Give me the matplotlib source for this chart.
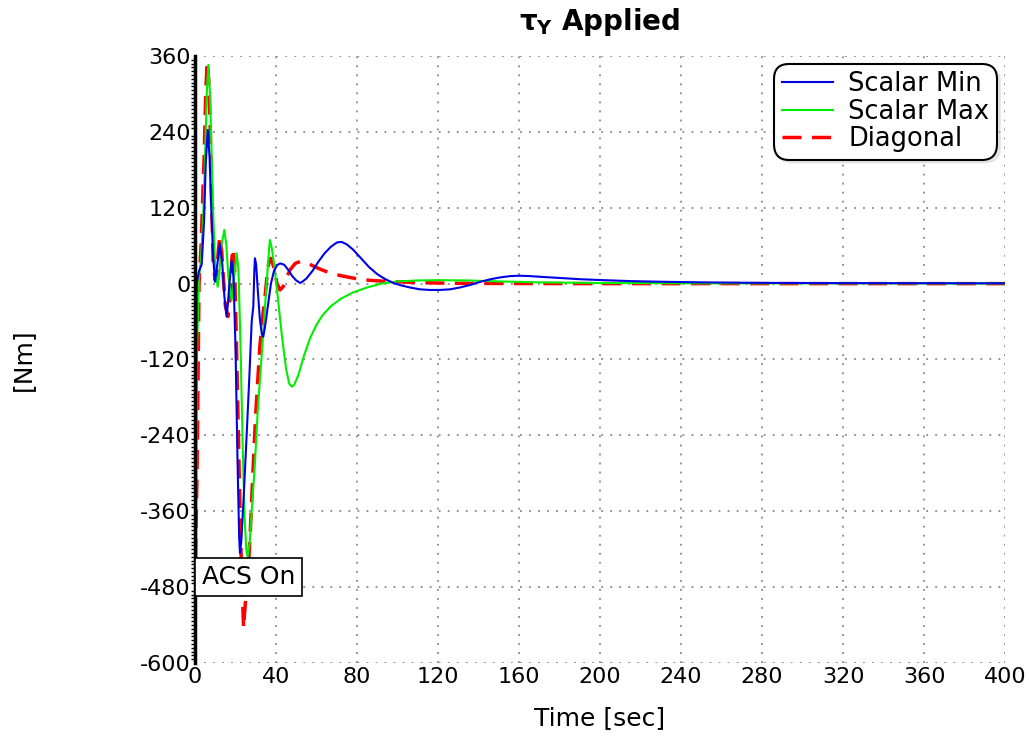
import matplotlib
matplotlib.use("Agg")
import matplotlib.pyplot as plt
from matplotlib.ticker import MultipleLocator

plt.rcParams["axes.unicode_minus"] = False

# Scalar Min (blue)
t_min = [0, 0.3, 0.8, 2, 3.3, 4.5, 5.3, 6.3, 7.2, 8, 9, 9.9, 11, 12.3, 13.5, 14.5, 15.6, 16.3,
         17, 18.1, 19, 20, 21, 21.8, 22.2, 22.8, 24, 25.5, 26.8, 28, 28.8, 29.3, 29.6, 30.2,
         31, 32, 33, 33.7, 34.5, 36, 37.5, 39, 40.5, 42, 44, 46, 48, 50, 52, 53, 55, 58, 61,
         64, 67, 70, 72.4, 75, 78, 82, 86, 90, 94, 98, 102, 106, 111, 116, 121, 126, 131, 136,
         141, 146, 151, 156, 160, 165, 172, 180, 190, 200, 215, 230, 250, 280, 320, 400]
v_min = [-370, -250, 0, 20, 30, 100, 190, 243, 200, 120, 40, 3, 30, 63, 30, -20, -52, -30,
         0, 36, 10, -100, -280, -400, -426, -410, -340, -240, -150, -60, -36, 20, 40, 30,
         -10, -55, -80, -84, -70, -35, 0, 20, 29, 32, 30, 22, 12, 5, 1, 3, 8, 20, 35,
         48, 58, 65, 66, 62, 54, 40, 26, 15, 7, 1, -3, -6, -9, -10, -10, -9, -6, -2,
         3, 7, 10, 12, 12.5, 12, 10.5, 9, 7, 5.7, 4, 3, 2, 1.2, 0.8, 0.5]

# Scalar Max (green)
t_max = [0, 0.5, 1, 2, 3, 4, 5, 5.8, 6.6, 7.4, 8, 9, 10, 11.2, 12, 13, 14.5, 15.5, 16.5, 18.1,
         19.3, 20.6, 21.5, 22.5, 23.5, 24.5, 25.3, 26, 27, 28, 29.6, 31, 32.9, 34.5, 35.8,
         36.6, 37, 38, 39.5, 41, 43, 45, 46.5, 47.8, 49, 51, 54, 57, 60, 63, 67, 72, 78, 85,
         92, 100, 110, 120, 135, 150, 170, 200, 250, 400]
v_max = [-560, -450, -100, 10, 40, 100, 200, 300, 346, 300, 230, 110, 20, -5, 15, 60, 85, 60,
         10, -26, 10, 48, 20, -100, -250, -370, -420, -432, -410, -360, -284, -200, -115, -40,
         20, 55, 69, 55, 20, -25, -85, -135, -158, -163, -160, -145, -112, -85, -65, -50, -36,
         -24, -14, -6, 0, 3.5, 5, 5.5, 5, 3.5, 2, 1, 0.5, 0.3]

# Diagonal (red dashed)
t_diag = [0, 1, 2, 3, 4.5, 5.3, 6, 6.8, 7.5, 8.3, 9, 10, 10.8, 11.6, 12.3, 13.2, 14, 15, 16.3,
          17.3, 18.2, 18.9, 19.6, 20.5, 21.5, 22.5, 23.5, 24, 24.5, 25.5, 26.5, 27.2, 28.5,
          30, 32, 33.5, 34.6, 35.5, 36.5, 37.5, 39, 40.5, 42, 43.5, 45, 47, 49.5, 51.9, 54,
          57, 61, 65.7, 70, 76, 83, 92, 99.6, 110, 130, 160, 200, 400]
v_diag = [-480, -300, 0, 60, 200, 300, 352, 320, 250, 120, 30, 5, 20, 55, 75, 50, 10, -35, -52,
          -20, 40, 56, 20, -100, -250, -400, -500, -545, -520, -480, -440, -400, -305,
          -205, -100, -50, -20, 10, 35, 40, 25, 0, -10, -5, 8, 22, 32, 35, 34,
          30, 24, 18, 14, 10, 6, 4, 3, 1.5, 0.5, 0.2, 0, 0]

x_ticks = list(range(0, 401, 40))
y_ticks = list(range(-600, 361, 120))

fig = plt.figure(figsize=(10.29, 7.42), dpi=100)
ax = fig.add_axes([0.1895, 0.1065, 0.7872, 0.818])

ax.plot(t_min, v_min, color="#0000e6", lw=1.5, label="Scalar Min", zorder=4)
ax.plot(t_max, v_max, color="#00ee00", lw=1.5, label="Scalar Max", zorder=3)
ax.plot(t_diag, v_diag, color="#ff0000", lw=2.5, dashes=(5.5, 3), label="Diagonal", zorder=2)

ax.set_xlim(0, 400)
ax.set_ylim(-600, 360)
ax.set_xticks(x_ticks)
ax.set_yticks(y_ticks)
ax.tick_params(axis="both", which="major", length=0, labelsize=16, pad=3)
ax.yaxis.set_minor_locator(MultipleLocator(6))
ax.tick_params(axis="y", which="minor", length=3, width=1, color="black")
ax.grid(True, which="major", linestyle=(0, (1, 4)), color="#888888", lw=1.3)

for s in ["top", "right", "bottom"]:
    ax.spines[s].set_visible(False)
ax.spines["left"].set_color("black")
ax.spines["left"].set_linewidth(2.5)
ax.spines["left"].set_zorder(5)

ax.set_xlabel("Time [sec]", fontsize=18, labelpad=14)
ax.set_ylabel("[Nm]", fontsize=18)
ax.yaxis.set_label_coords(-0.197, 0.5)
ax.set_title(r"τ$_\mathbf{Y}$ Applied", fontsize=20, fontweight="bold", pad=19)

ax.text(3.5, -464, "ACS On", fontsize=18, ha="left", va="center",
        bbox=dict(boxstyle="square,pad=0.28", facecolor="white", edgecolor="black", lw=1.2),
        zorder=6)

leg = ax.legend(loc="upper right", fontsize=18.5, fancybox=True, framealpha=1,
                edgecolor="black", borderaxespad=0.3, handlelength=2.0,
                labelspacing=0.05, borderpad=0.3, handletextpad=0.6,
                shadow=dict(color="#cccccc", alpha=0.4))
leg.get_frame().set_linewidth(1.5)
leg.get_frame().set_boxstyle("round,pad=0,rounding_size=0.6")
leg.set_zorder(7)

fig.savefig("out.png", dpi=100)
